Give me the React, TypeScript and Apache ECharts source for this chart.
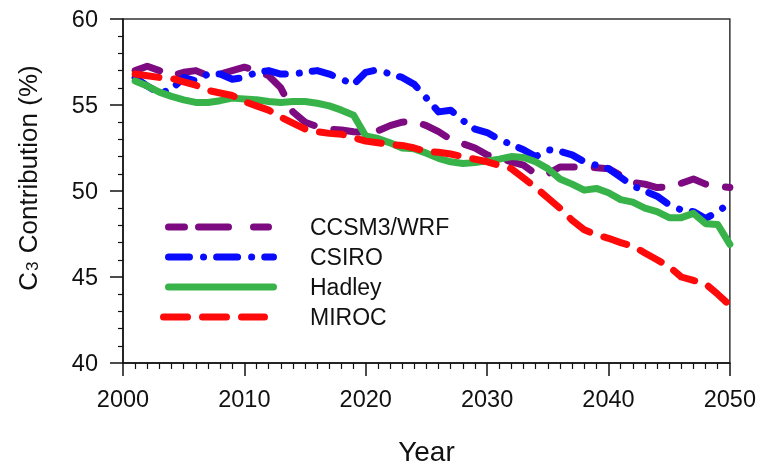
import React, { useEffect, useRef } from "react";
import * as echarts from "echarts";

// Simulation years, one value per year
const YEARS: number[] = Array.from({ length: 50 }, (_, i) => 2001 + i);

// C3 contribution (%) by climate model
const CCSM3_WRF = [
  57.0, 57.25, 57.0, 56.7, 56.9, 57.0, 56.7, 56.8, 57.0, 57.2,
  57.0, 56.7, 56.0, 54.6, 54.0, 53.75, 53.6, 53.55, 53.45, 53.4,
  53.5, 53.8, 54.0, 54.05, 53.8, 53.45, 53.0, 52.75, 52.5, 52.1,
  51.9, 51.7, 51.5, 51.0, 51.0, 51.4, 51.4, 51.4, 51.35, 51.3,
  50.9, 50.5, 50.4, 50.2, 50.25, 50.45, 50.7, 50.4, 50.3, 50.2,
];
const CSIRO = [
  56.6, 56.1, 55.7, 55.9, 56.6, 56.4, 56.8, 56.8, 56.5, 56.6,
  56.9, 57.0, 56.8, 56.8, 56.9, 57.0, 56.8, 56.5, 56.2, 56.9,
  57.05, 56.8, 56.6, 56.2, 55.4, 54.6, 54.7, 54.1, 53.6, 53.4,
  53.0, 52.7, 52.4, 52.0, 52.4, 52.3, 52.1, 51.7, 51.5, 51.3,
  50.8, 50.3, 50.0, 49.7, 49.2, 48.9, 48.8, 48.4, 48.8, 49.3,
];
const HADLEY = [
  56.4, 56.1, 55.75, 55.5, 55.3, 55.15, 55.15, 55.25, 55.4, 55.35,
  55.3, 55.2, 55.15, 55.2, 55.2, 55.1, 54.95, 54.7, 54.4, 53.2,
  53.05, 52.8, 52.5, 52.45, 52.2, 51.9, 51.7, 51.6, 51.65, 51.75,
  51.85, 52.0, 51.95, 51.7, 51.3, 50.7, 50.4, 50.05, 50.15, 49.9,
  49.5, 49.35, 49.0, 48.8, 48.45, 48.45, 48.7, 48.1, 48.05, 46.9,
];
const MIROC = [
  56.8, 56.7, 56.6, 56.55, 56.35, 56.15, 55.85, 55.7, 55.55, 55.2,
  54.95, 54.7, 54.3, 53.95, 53.6, 53.45, 53.35, 53.3, 53.1, 52.9,
  52.8, 52.7, 52.65, 52.5, 52.3, 52.25, 52.15, 52.0, 51.85, 51.7,
  51.5, 51.3, 50.75, 50.2, 49.6, 49.0, 48.3, 47.75, 47.45, 47.25,
  47.0, 46.8, 46.4, 46.0, 45.6, 45.0, 44.8, 44.6, 44.0, 43.35,
];

const SERIES_NAMES = ["CCSM3/WRF", "CSIRO", "Hadley", "MIROC"];
const SERIES_VALUES = [CCSM3_WRF, CSIRO, HADLEY, MIROC];

const COLORS = ["#7d0a80", "#0a0aff", "#37b34a", "#ff0a0a"];
const PLOT_DASH: (number[] | "solid")[] = [[26, 20], [21, 14, 0.1, 13], "solid", [24, 15]];
const KEY_DASH: (number[] | null)[] = [[16, 14, 30, 25, 15], [21, 14, 0.1, 13], null, [24, 15]];
const KEY_X: [number, number][] = [[168.5, 268.5], [168.5, 273.5], [168.5, 273.5], [163.5, 264.5]];

const FONT = "'Liberation Sans', Arial, sans-serif";
const LINE_W = 7;

export default function App() {
  const ref = useRef<HTMLDivElement>(null);

  useEffect(() => {
    if (!ref.current) return;
    const chart = echarts.init(ref.current, undefined, { renderer: "svg" });

    const series = SERIES_NAMES.map((name, k) => ({
      name,
      type: "line",
      data: YEARS.map((y, i) => [y, SERIES_VALUES[k][i]]),
      showSymbol: false,
      symbol: "none",
      lineStyle: {
        color: COLORS[k],
        width: LINE_W,
        type: PLOT_DASH[k],
        cap: "round",
        join: "round",
      },
      z: 2 + k,
    }));

    // Key drawn as short line samples with labels
    const keyItems: any[] = [];
    SERIES_NAMES.forEach((name, k) => {
      const y = 227 + k * 30;
      const [x1, x2] = KEY_X[k];
      keyItems.push({
        type: "line",
        shape: { x1, y1: y, x2, y2: y },
        style: {
          stroke: COLORS[k],
          lineWidth: LINE_W,
          lineCap: "round",
          lineDash: KEY_DASH[k] || undefined,
        },
        z: 10,
      });
      keyItems.push({
        type: "text",
        x: 310,
        y,
        style: {
          text: name,
          font: `23px ${FONT}`,
          fill: "#111",
          verticalAlign: "middle",
          align: "left",
        },
        z: 10,
      });
    });

    chart.setOption({
      animation: false,
      grid: {
        left: 123,
        right: 29,
        top: 19,
        bottom: 103,
        show: true,
        borderColor: "#333",
        borderWidth: 1.5,
        backgroundColor: "transparent",
      },
      xAxis: {
        type: "value",
        min: 2000,
        max: 2050,
        interval: 10,
        name: "Year",
        nameLocation: "middle",
        nameGap: 74,
        nameTextStyle: { fontFamily: FONT, fontSize: 28, color: "#111" },
        axisLine: { show: true, lineStyle: { color: "#111", width: 1.5 } },
        axisTick: { show: true, inside: false, length: 13, lineStyle: { color: "#111", width: 1.5 } },
        minorTick: { show: true, splitNumber: 10, length: 6, lineStyle: { color: "#111", width: 1.2 } },
        splitLine: { show: false },
        axisLabel: {
          fontFamily: FONT,
          fontSize: 23.5,
          color: "#111",
          margin: 24,
          formatter: (v: number) => String(v),
        },
      },
      yAxis: {
        type: "value",
        min: 40,
        max: 60,
        interval: 5,
        axisLine: { show: true, lineStyle: { color: "#111", width: 1.5 } },
        axisTick: { show: true, inside: false, length: 13, lineStyle: { color: "#111", width: 1.5 } },
        minorTick: { show: true, splitNumber: 5, length: 5, lineStyle: { color: "#111", width: 1.2 } },
        splitLine: { show: false },
        axisLabel: {
          fontFamily: FONT,
          fontSize: 23.5,
          color: "#111",
          margin: 25,
        },
      },
      graphic: [
        {
          type: "text",
          x: 26,
          y: 178,
          rotation: Math.PI / 2,
          style: {
            text: "{a|C}{b|3}{a| Contribution (%)}",
            align: "center",
            verticalAlign: "middle",
            rich: {
              a: { fontFamily: FONT, fontSize: 26, fill: "#111", lineHeight: 30, verticalAlign: "bottom" },
              b: { fontFamily: FONT, fontSize: 17, fill: "#111", lineHeight: 30, verticalAlign: "bottom", padding: [10, 1, 0, 1] },
            },
          },
          z: 10,
        },
        ...keyItems,
      ],
      series,
    });

    return () => chart.dispose();
  }, []);

  return (
    <div
      ref={ref}
      style={{ position: "fixed", left: 0, top: 0, width: 759, height: 470 }}
    />
  );
}
